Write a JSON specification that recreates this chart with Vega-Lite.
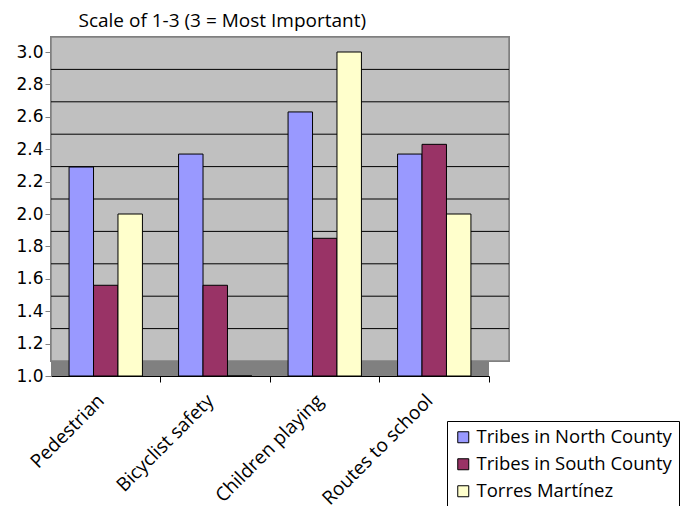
{
  "$schema": "https://vega.github.io/schema/vega-lite/v6.json",
  "width": 438,
  "height": 324,
  "autosize": {"type": "none"},
  "padding": {"left": 51, "top": 52, "right": 192, "bottom": 130},
  "background": "#FFFFFF",
  "datasets": {
    "scores": [
      {"category": "Pedestrian", "series": "Tribes in North County", "value": 2.29},
      {"category": "Pedestrian", "series": "Tribes in South County", "value": 1.56},
      {"category": "Pedestrian", "series": "Torres Martínez", "value": 2.0},
      {"category": "Bicyclist safety", "series": "Tribes in North County", "value": 2.37},
      {"category": "Bicyclist safety", "series": "Tribes in South County", "value": 1.56},
      {"category": "Bicyclist safety", "series": "Torres Martínez", "value": 1.0},
      {"category": "Children playing", "series": "Tribes in North County", "value": 2.63},
      {"category": "Children playing", "series": "Tribes in South County", "value": 1.85},
      {"category": "Children playing", "series": "Torres Martínez", "value": 3.0},
      {"category": "Routes to school", "series": "Tribes in North County", "value": 2.37},
      {"category": "Routes to school", "series": "Tribes in South County", "value": 2.43},
      {"category": "Routes to school", "series": "Torres Martínez", "value": 2.0}
    ],
    "gridlines": [
      {"v": 1.2}, {"v": 1.4}, {"v": 1.6}, {"v": 1.8}, {"v": 2.0},
      {"v": 2.2}, {"v": 2.4}, {"v": 2.6}, {"v": 2.8}
    ]
  },
  "data": {"name": "scores"},
  "config": {
    "view": {"fill": null, "stroke": null},
    "axis": {"labelColor": "#000000", "titleColor": "#000000"},
    "axisY": {
      "labelOverlap": false,
      "tickCount": 11,
      "values": [1.0, 1.2, 1.4, 1.6, 1.8, 2.0, 2.2, 2.4, 2.6, 2.8, 3.0],
      "labelFont": "DejaVu Sans",
      "labelFontSize": 17,
      "labelPadding": 2,
      "tickSize": 6,
      "tickColor": "#808080",
      "domainColor": "#808080",
      "grid": false
    }
  },
  "resolve": {"axis": {"x": "independent"}},
  "layer": [
    {
      "mark": {"type": "rect", "color": "#C0C0C0"},
      "encoding": {
        "y": {"datum": 3, "type": "quantitative", "scale": {"domain": [1, 3], "zero": false, "nice": false}},
        "y2": {"datum": 1}
      }
    },
    {
      "mark": {"type": "rect", "color": "#C0C0C0", "stroke": "#808080", "strokeWidth": 1.5, "xOffset": 20, "x2Offset": 20, "yOffset": -15, "y2Offset": -15},
      "encoding": {
        "y": {"datum": 3, "type": "quantitative"},
        "y2": {"datum": 1}
      }
    },
    {
      "mark": {"type": "rect", "color": "#808080", "y2Offset": -15},
      "encoding": {
        "y": {"datum": 1, "type": "quantitative"},
        "y2": {"datum": 1}
      }
    },
    {
      "data": {"name": "gridlines"},
      "mark": {"type": "rule", "color": "#000000", "strokeWidth": 1, "xOffset": 20, "x2Offset": 20, "yOffset": -15},
      "encoding": {
        "y": {"field": "v", "type": "quantitative"}
      }
    },
    {
      "mark": {"type": "bar", "stroke": "#000000", "strokeWidth": 1},
      "encoding": {
        "x": {
          "field": "category",
          "type": "nominal",
          "sort": ["Pedestrian", "Bicyclist safety", "Children playing", "Routes to school"],
          "scale": {"paddingInner": 0.33, "paddingOuter": 0.165},
          "axis": {
            "orient": "bottom",
            "title": null,
            "labelAngle": -45,
            "labelFont": "Open Sans",
            "labelFontSize": 19,
            "labelPadding": 15,
            "labelOffset": -11,
            "labelLimit": 300,
            "ticks": false,
            "domain": true,
            "domainColor": "#000000",
            "domainWidth": 1
          }
        },
        "xOffset": {
          "field": "series",
          "type": "nominal",
          "sort": ["Tribes in North County", "Tribes in South County", "Torres Martínez"],
          "scale": {"paddingInner": 0, "paddingOuter": 0}
        },
        "y": {
          "field": "value",
          "type": "quantitative",
          "scale": {"domain": [1, 3], "zero": false, "nice": false},
          "axis": {
            "values": [1.0, 1.2, 1.4, 1.6, 1.8, 2.0, 2.2, 2.4, 2.6, 2.8, 3.0],
            "tickCount": 11,
            "labelOverlap": false,
            "format": ".1f",
            "title": "Scale of 1-3 (3 = Most Important)",
            "titleAngle": 0,
            "titleAlign": "left",
            "titleBaseline": "alphabetic",
            "titleX": 27,
            "titleY": -26,
            "titleFont": "Open Sans",
            "titleFontSize": 19,
            "titleFontWeight": "normal"
          }
        },
        "y2": {"datum": 1},
        "color": {
          "field": "series",
          "type": "nominal",
          "sort": ["Tribes in North County", "Tribes in South County", "Torres Martínez"],
          "scale": {
            "domain": ["Tribes in North County", "Tribes in South County", "Torres Martínez"],
            "range": ["#9999FF", "#993366", "#FFFFCC"]
          },
          "legend": {
            "title": null,
            "orient": "none",
            "legendX": 396,
            "legendY": 369,
            "symbolType": "square",
            "symbolSize": 121,
            "symbolStrokeColor": "#000000",
            "symbolStrokeWidth": 1,
            "symbolOpacity": 1,
            "labelFont": "Open Sans",
            "labelFontSize": 18.5,
            "labelLimit": 400,
            "rowPadding": 8,
            "strokeColor": "#000000",
            "fillColor": "#FFFFFF",
            "padding": 7
          }
        }
      }
    },
    {
      "mark": {"type": "bar", "opacity": 0},
      "encoding": {
        "x": {
          "field": "category",
          "type": "nominal",
          "sort": ["Pedestrian", "Bicyclist safety", "Children playing", "Routes to school"],
          "axis": {
            "orient": "bottom",
            "title": null,
            "labels": false,
            "domain": false,
            "ticks": true,
            "bandPosition": 1,
            "tickOffset": 18,
            "tickSize": 6,
            "tickColor": "#000000"
          }
        }
      }
    }
  ]
}
